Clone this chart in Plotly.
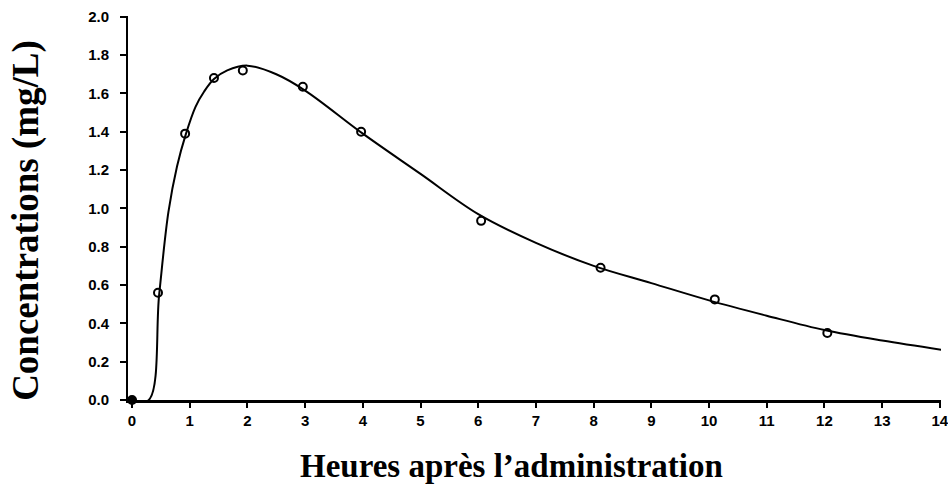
import plotly.graph_objects as go

# Observed concentrations (circles)
obs_hours = [0, 0.45, 0.92, 1.42, 1.92, 2.96, 3.97, 6.05, 8.12, 10.1, 12.05, 14.03]
obs_conc = [0.0, 0.56, 1.39, 1.68, 1.72, 1.635, 1.40, 0.935, 0.69, 0.525, 0.35, 0.265]

# Fitted curve
fit_hours = [0, 0.29, 0.47, 0.63, 0.78, 0.93, 1.1, 1.25, 1.42, 1.65, 2.0, 2.5,
             3.0, 4.0, 5.0, 6.0, 7.0, 8.0, 9.0, 10.0, 11.0, 12.0, 13.0, 14.03]
fit_conc = [0.0, 0.0, 0.55, 0.98, 1.22, 1.385, 1.53, 1.61, 1.675, 1.72, 1.745, 1.70,
            1.615, 1.39, 1.18, 0.97, 0.82, 0.70, 0.61, 0.52, 0.44, 0.365, 0.31, 0.262]

x_ticks = list(range(0, 15))
y_ticks = [0.0, 0.2, 0.4, 0.6, 0.8, 1.0, 1.2, 1.4, 1.6, 1.8, 2.0]

fig = go.Figure()
fig.add_trace(go.Scatter(
    x=fit_hours, y=fit_conc, mode="lines",
    line=dict(color="black", width=2, shape="spline", smoothing=1.0),
    showlegend=False, hoverinfo="skip", cliponaxis=False))
fig.add_trace(go.Scatter(
    x=obs_hours, y=obs_conc, mode="markers",
    marker=dict(symbol=["circle"] + ["circle-open"] * (len(obs_hours) - 1),
                size=8, color="black", line=dict(color="black", width=2)),
    showlegend=False, cliponaxis=False))

tick_font = dict(family="Liberation Sans, Arial, sans-serif", size=15, color="black", weight="bold")
title_family = "Liberation Serif, Times New Roman, serif"

fig.add_annotation(
    text="<b>Heures après l’administration</b>", xref="paper", yref="paper",
    x=0.472, y=-0.172, xanchor="center", yanchor="middle", showarrow=False,
    font=dict(family=title_family, size=33, color="black"))
fig.add_annotation(
    text="<b>Concentrations (mg/L)</b>", xref="paper", yref="paper",
    x=-0.1255, y=0.469, xanchor="center", yanchor="middle", showarrow=False,
    textangle=-90, font=dict(family=title_family, size=37, color="black"))

fig.update_layout(
    width=948, height=488,
    margin=dict(l=128, r=7, t=16, b=88, autoexpand=False),
    paper_bgcolor="white", plot_bgcolor="white",
    font=dict(family="Liberation Sans, Arial, sans-serif", color="black"),
    xaxis=dict(
        range=[-0.07, 14.02], tickvals=x_ticks, ticktext=[str(v) for v in x_ticks],
        showgrid=False, zeroline=False, showline=True, linecolor="black", linewidth=3,
        ticks="outside", ticklen=5, tickwidth=2, tickcolor="black",
        tickfont=tick_font, ticklabeloverflow="allow", automargin=False,
    ),
    yaxis=dict(
        range=[0, 2.004], tickvals=y_ticks, ticktext=[f"{v:.1f}" for v in y_ticks],
        showgrid=False, zeroline=False, showline=True, linecolor="black", linewidth=2,
        ticks="outside", ticklen=6, tickwidth=2, tickcolor="black",
        ticklabelstandoff=8,
        tickfont=tick_font, ticklabeloverflow="allow", automargin=False,
    ),
)

fig.write_html(
    "out.html",
    config={"displayModeBar": False},
    post_script=("document.body.style.margin='0';"
                 "document.body.style.overflow='hidden';"
                 "document.documentElement.style.overflow='hidden';"),
)
